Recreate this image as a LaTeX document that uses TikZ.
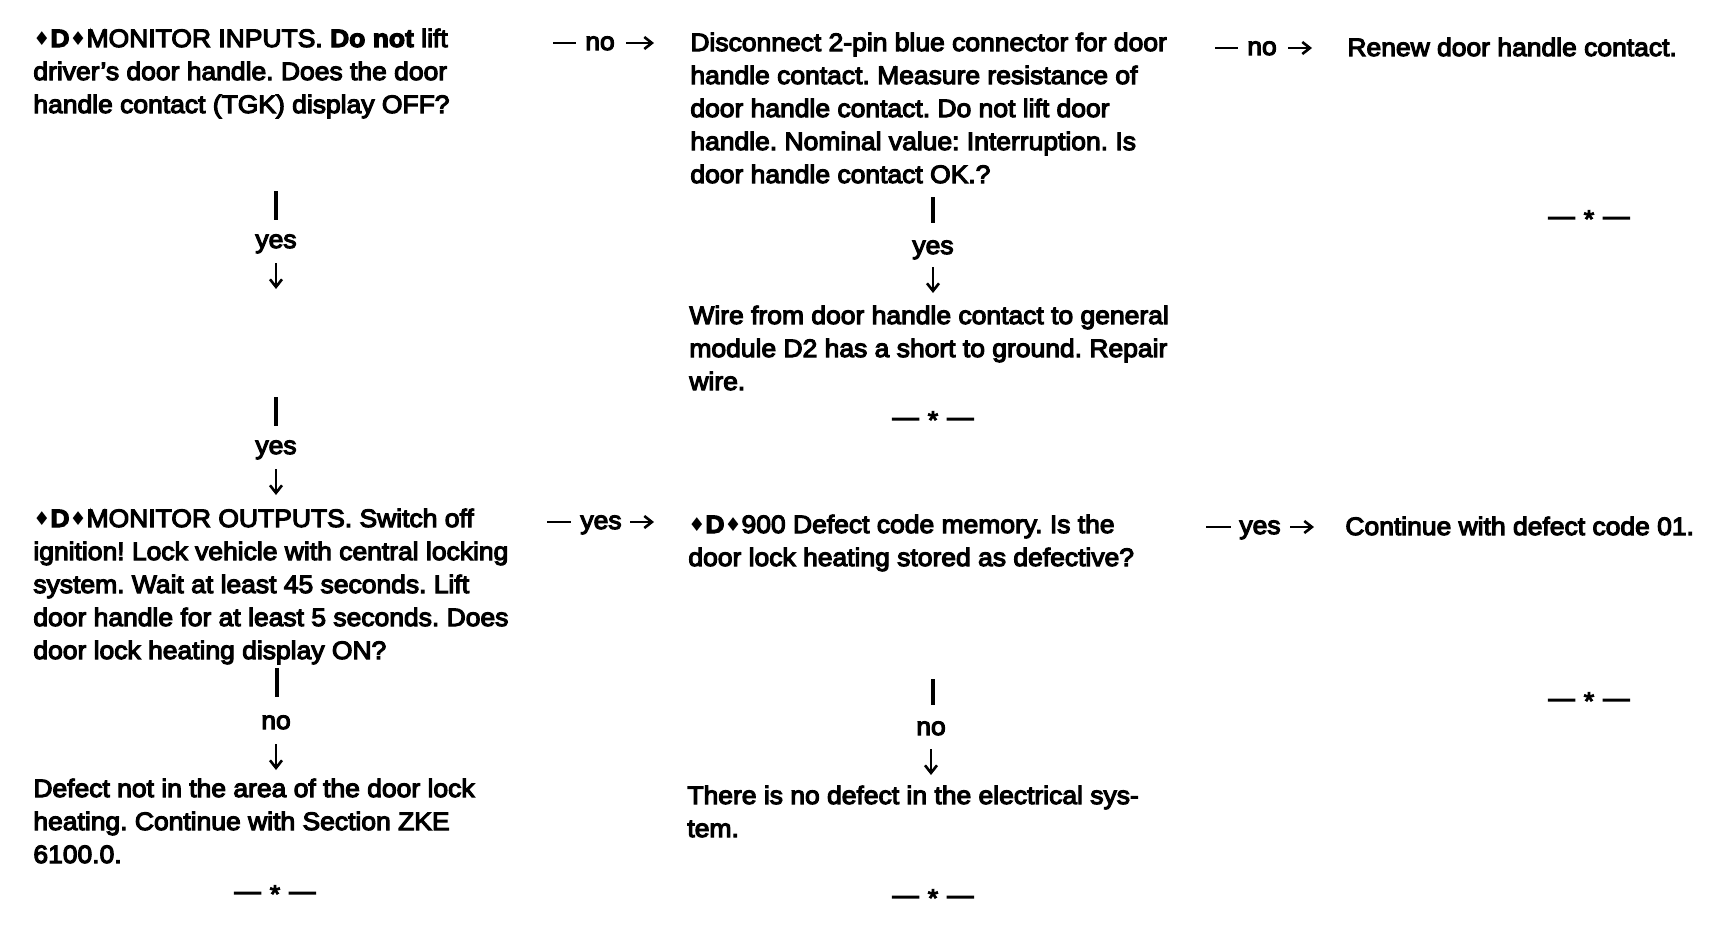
\documentclass[tikz,border=0pt]{standalone}
\usepackage{fontspec}
\setmainfont{Liberation Sans}[FakeBold=4.5,FakeStretch=1.05]
\newfontfamily\symf{DejaVu Sans}
\usetikzlibrary{arrows.meta}
\frenchspacing
\newcommand\dmd{\raisebox{1.0pt}{\symf\fontsize{9.5}{10}\selectfont ♦}}
\newcommand\blk[1]{\begin{tabular}[t]{@{}l@{}}#1\end{tabular}}
\newcommand\sep{—\hspace{4.5pt}\raisebox{-1.6pt}{*}\hspace{4.5pt}—}
\tikzset{
  txt/.style={anchor=base west, inner sep=0pt, font=\fontsize{12.6}{16.5}\selectfont},
  lbl/.style={anchor=base, inner sep=0pt, font=\fontsize{12.6}{16.5}\selectfont},
  endmark/.style={anchor=center, inner sep=0pt, font=\fontsize{12.6}{16.5}\selectfont},
  bar/.style={line width=1.7pt},
  dashline/.style={line width=1.1pt},
  arr/.style={line width=1.3pt, -{Straight Barb[length=3.8pt,width=6pt]}}
}
\begin{document}
\begin{tikzpicture}[x=0.5pt,y=-0.5pt]
\fill[white] (0,0) rectangle (1736,944);
\useasboundingbox (0,0) rectangle (1736,944);

% ---- column 1 ----
\node[txt] (A) at (33,47) {\blk{\dmd\textbf{D}\dmd MONITOR INPUTS. \textbf{Do not} lift\\
driver’s door handle. Does the door\\
handle contact (TGK) display OFF?}};

\coordinate (a1) at (276,191); \coordinate (a2) at (276,220);
\draw[bar] (a1) -- (a2);
\node[lbl] (y1) at (276,248) {yes};
\coordinate (a3) at (276,263); \coordinate (a4) at (276,289);
\draw[arr] (a3) -- (a4);

\coordinate (a5) at (276,397); \coordinate (a6) at (276,426);
\draw[bar] (a5) -- (a6);
\node[lbl] (y2) at (276,454) {yes};
\coordinate (a7) at (276,469); \coordinate (a8) at (276,495);
\draw[arr] (a7) -- (a8);

\node[txt] (B) at (33,527) {\blk{\dmd\textbf{D}\dmd MONITOR OUTPUTS. Switch off\\
ignition! Lock vehicle with central locking\\
system. Wait at least 45 seconds. Lift\\
door handle for at least 5 seconds. Does\\
door lock heating display ON?}};

\coordinate (b1) at (277,668); \coordinate (b2) at (277,697);
\draw[bar] (b1) -- (b2);
\node[lbl] (n1) at (276,729) {no};
\coordinate (b3) at (276,744); \coordinate (b4) at (276,770);
\draw[arr] (b3) -- (b4);

\node[txt] (C) at (33,797) {\blk{Defect not in the area of the door lock\\
heating. Continue with Section ZKE\\
6100.0.}};
\node[endmark] (s1) at (275,894) {\sep};

% ---- column 1 -> 2 connectors ----
\coordinate (h1) at (553,43); \coordinate (h2) at (576,43);
\draw[dashline] (h1) -- (h2);
\node[lbl] (n2) at (600,50) {no};
\coordinate (h3) at (626,43); \coordinate (h4) at (654,43);
\draw[arr] (h3) -- (h4);

\coordinate (h5) at (547,522); \coordinate (h6) at (571,522);
\draw[dashline] (h5) -- (h6);
\node[lbl] (y3) at (601,529) {yes};
\coordinate (h7) at (630,522); \coordinate (h8) at (654,522);
\draw[arr] (h7) -- (h8);

% ---- column 2 ----
\node[txt] (D) at (690,51) {\blk{Disconnect 2-pin blue connector for door\\
handle contact. Measure resistance of\\
door handle contact. Do not lift door\\
handle. Nominal value: Interruption. Is\\
door handle contact OK.?}};

\coordinate (d1) at (933,197); \coordinate (d2) at (933,223);
\draw[bar] (d1) -- (d2);
\node[lbl] (y4) at (933,254) {yes};
\coordinate (d3) at (933,267); \coordinate (d4) at (933,293);
\draw[arr] (d3) -- (d4);

\node[txt] (E) at (689,324) {\blk{Wire from door handle contact to general\\
module D2 has a short to ground. Repair\\
wire.}};
\node[endmark] (s2) at (933,420) {\sep};

\node[txt] (F) at (688,533) {\blk{\dmd\textbf{D}\dmd 900 Defect code memory. Is the\\
door lock heating stored as defective?}};

\coordinate (f1) at (933,679); \coordinate (f2) at (933,705);
\draw[bar] (f1) -- (f2);
\node[lbl] (n3) at (931,735) {no};
\coordinate (f3) at (931,749); \coordinate (f4) at (931,775);
\draw[arr] (f3) -- (f4);

\node[txt] (G) at (687,804) {\blk{There is no defect in the electrical sys-\\
tem.}};
\node[endmark] (s3) at (933,898) {\sep};

% ---- column 2 -> 3 connectors ----
\coordinate (k1) at (1215,48); \coordinate (k2) at (1238,48);
\draw[dashline] (k1) -- (k2);
\node[lbl] (n4) at (1262,55) {no};
\coordinate (k3) at (1288,48); \coordinate (k4) at (1312,48);
\draw[arr] (k3) -- (k4);

\coordinate (k5) at (1206,527); \coordinate (k6) at (1231,527);
\draw[dashline] (k5) -- (k6);
\node[lbl] (y5) at (1260,534) {yes};
\coordinate (k7) at (1290,527); \coordinate (k8) at (1314,527);
\draw[arr] (k7) -- (k8);

% ---- column 3 ----
\node[txt] (R) at (1347,56) {Renew door handle contact.};
\node[endmark] (s4) at (1589,219) {\sep};

\node[txt] (K) at (1345,535) {Continue with defect code 01.};
\node[endmark] (s5) at (1589,701) {\sep};
\end{tikzpicture}
\end{document}
